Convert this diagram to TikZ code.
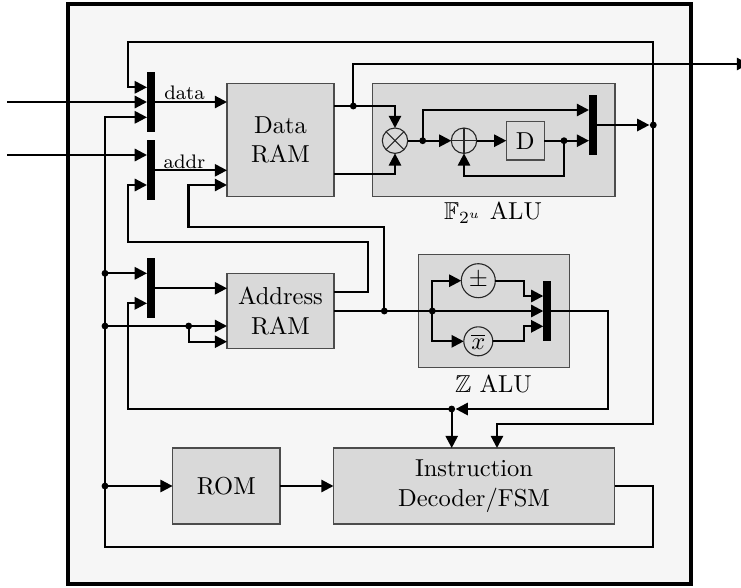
\documentclass[tikz,border=0pt]{standalone}
\usepackage{amssymb}
\usetikzlibrary{arrows.meta}
\tikzset{
  x=0.4081pt,y=-0.4081pt,
  wire/.style={line width=0.9pt,draw=black,line join=miter},
  arr/.style={wire,-{Triangle[length=5pt,width=5pt]}},
  block/.style={draw=black!70,line width=0.5pt,fill=black!15,outer sep=0pt,inner sep=0pt,align=center},
  muxbar/.style={fill=black,draw=none,outer sep=0pt,inner sep=0pt,minimum width=8*0.4081pt},
  dotj/.style={circle,fill=black,draw=none,inner sep=0pt,minimum size=2.8pt},
  opc/.style={circle,draw=black!85,line width=0.45pt,fill=black!15,inner sep=0pt,outer sep=0pt},
  lbl/.style={inner sep=0pt,font=\footnotesize},
}
% name, x0, y0, x1, y1, text
\newcommand{\bx}[6]{\node[block,minimum width={(#4-#2)*0.4081pt},minimum height={(#5-#3)*0.4081pt}] (#1) at ({(#2+#4)/2},{(#3+#5)/2}) {#6};}
% name, x0, y0, y1
\newcommand{\mx}[4]{\node[muxbar,minimum height={(#4-#3)*0.4081pt}] (#1) at ({#2+4},{(#3+#4)/2}) {};}
\begin{document}
\begin{tikzpicture}
\useasboundingbox (0,0) rectangle (741,587);
\node[draw=black,line width=2pt,fill=black!3.5,minimum width={623*0.4081pt},minimum height={580*0.4081pt},inner sep=0pt] (chip) at (379.5,294) {};
% ALU boxes
\bx{falu}{372.7}{83.3}{615}{196.3}{}
\bx{zalu}{418.3}{254.3}{569.3}{367.7}{}
\node[inner sep=0pt] (flabel) at (493,213) {$\mathbb{F}_{2^u}$ ALU};
\node[inner sep=0pt] (zlabel) at (493.5,384) {$\mathbb{Z}$ ALU};
% blocks
\bx{dram}{227}{83.3}{334}{196.3}{Data\\RAM}
\bx{aram}{227}{273.3}{334}{348.7}{Address\\RAM}
\bx{rom}{172.6}{448}{280}{524}{ROM}
\bx{dec}{333.5}{448}{614.5}{524}{Instruction\\Decoder/FSM}
\bx{dff}{506.3}{121.3}{544.3}{160.1}{D}
% operators
\node[opc,minimum size={25.4*0.4081pt}] (mul) at (395,140.7) {};
\draw[line width=0.45pt,black!85] (mul.45)--(mul.225) (mul.135)--(mul.315);
\node[opc,minimum size={25.4*0.4081pt}] (add) at (464,140.7) {};
\draw[line width=0.45pt,black!85] (add.north)--(add.south) (add.west)--(add.east);
\node[opc,minimum size={34*0.4081pt}] (pm) at (478.3,280.7) {$\pm$};
\node[opc,minimum size={29*0.4081pt}] (neg) at (478.3,341.3) {$\overline{x}$};
% muxes
\mx{mA}{147}{72}{132.3}
\mx{mB}{147}{140}{200.3}
\mx{mC}{147}{258.3}{318.3}
\mx{mD}{589}{95}{155}
\mx{mE}{543.3}{281}{341}
% junctions
\node[dotj] (jD) at (353.3,106) {};
\node[dotj] (jM) at (422.7,140.7) {};
\node[dotj] (jF) at (564,140.7) {};
\node[dotj] (jO) at (653.3,125) {};
\node[dotj] (jA) at (384.3,311) {};
\node[dotj] (jZ) at (432.3,311) {};
\node[dotj] (jB) at (451.7,409) {};
\node[dotj] (jV) at (105,273.3) {};
\node[dotj] (jW) at (105,326) {};
\node[dotj] (jR) at (105,486) {};
\node[dotj] (jS) at (188.7,326) {};
% free ends
\coordinate (inA) at (7,102);
\coordinate (inB) at (7,155);
\coordinate (outT) at (749,64);
% mux A / B
\draw[arr] (inA) -- (mA.west |- inA);
\draw[arr] (inB) -- (mB.west |- inB);
\draw[arr] (jO.center) -- (653.3,41.7) -- (127.7,41.7) -- (127.7,87.3) -- (mA.west |- 0,87.3);
\draw[arr] (mA.east |- 0,102) -- (dram.west |- 0,102);
\draw[arr] (mB.east |- 0,170.3) -- (dram.west |- 0,170.3);
\node[lbl] (ldata) at (184.5,93) {data};
\node[lbl] (laddr) at (184.5,161.5) {addr};
\draw[arr] (jA.center) -- (384.3,227.3) -- (188.5,227.3) -- (188.5,185) -- (dram.west |- 0,185);
\draw[arr] (aram.east |- 0,292) -- (368,292) -- (368,242) -- (127.7,242) -- (127.7,185) -- (mB.west |- 0,185);
% Data RAM to ALU
\draw[wire] (dram.east |- jD) -- (jD.center);
\draw[arr] (jD.center) -- (395,106) -- (mul.north);
\draw[arr] (jD.center) -- (353.3,64) -- (outT);
\draw[arr] (dram.east |- 0,174) -- (395,174) -- (mul.south);
\draw[wire] (mul.east) -- (jM.center);
\draw[arr] (jM.center) -- (add.west);
\draw[arr] (jM.center) -- (422.7,110) -- (mD.west |- 0,110);
\draw[arr] (add.east) -- (dff.west);
\draw[wire] (dff.east) -- (jF.center);
\draw[arr] (jF.center) -- (mD.west |- jF);
\draw[arr] (jF.center) -- (564,176.3) -- (464,176.3) -- (add.south);
\draw[arr] (mD.east |- jO) -- (jO);
\draw[arr] (jO.center) -- (653.3,424.3) -- (497,424.3) -- (dec.north -| 497,0);
% Address RAM and Z ALU
\draw[wire] (aram.east |- jA) -- (jA.center);
\draw[wire] (jA.center) -- (jZ.center);
\draw[arr] (jZ.center) -- (mE.west |- jZ);
\draw[arr] (jZ.center) -- (432.3,280.7) -- (pm.west);
\draw[arr] (jZ.center) -- (432.3,341.3) -- (neg.west);
\draw[arr] (pm.east) -- (524.3,280.7) -- (524.3,296) -- (mE.west |- 0,296);
\draw[arr] (neg.east) -- (524.3,341.3) -- (524.3,326.3) -- (mE.west |- 0,326.3);
\draw[arr] (mE.east |- jZ) -- (607.7,311) -- (607.7,409) -- (jB);
\draw[arr] (jB.center) -- (127.7,409) -- (127.7,303.3) -- (mC.west |- 0,303.3);
\draw[arr] (jB.center) -- (dec.north -| jB);
% mux C, Address RAM inputs
\draw[arr] (jV.center) -- (mC.west |- jV);
\draw[arr] (mC.east |- 0,288.3) -- (aram.west |- 0,288.3);
\draw[arr] (jW.center) -- (aram.west |- jW);
\draw[arr] (jS.center) -- (188.7,341.7) -- (aram.west |- 0,341.7);
% ROM, decoder and feedback
\draw[arr] (jR.center) -- (rom.west);
\draw[arr] (rom.east) -- (dec.west |- rom.east);
\draw[arr] (dec.east |- rom.east) -- (653,486) -- (653,547) -- (105,547) -- (105,117.3) -- (mA.west |- 0,117.3);
\end{tikzpicture}
\end{document}
